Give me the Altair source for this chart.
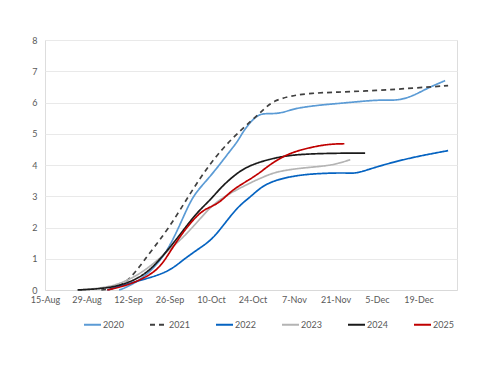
import altair as alt
import pandas as pd

# ---- data ----
d2020 = ["09-09","09-12","09-19","09-26","10-02","10-05","10-10","10-16","10-19","10-21","10-24","10-26","10-28","11-01","11-04","11-08","11-17","11-21","11-30","12-07","12-12","12-17","12-22","12-28"]
v2020 = [0.0,0.1,0.5,1.3,2.65,3.15,3.65,4.4,4.75,5.1,5.45,5.6,5.65,5.64,5.7,5.83,5.93,5.96,6.04,6.09,6.06,6.2,6.46,6.7]

d2021 = ["09-03","09-08","09-12","09-16","09-19","09-26","10-03","10-10","10-17","10-24","10-28","10-31","11-06","11-13","11-21","12-05","12-17","12-29"]
v2021 = [0.0,0.05,0.3,0.75,1.15,2.0,3.1,4.1,4.85,5.45,5.8,6.05,6.22,6.3,6.33,6.38,6.46,6.54]

d2022 = ["09-05","09-12","09-19","09-26","10-01","10-07","10-10","10-13","10-19","10-23","10-27","11-01","11-09","11-18","11-25","11-28","12-05","12-16","12-29"]
v2022 = [0.0,0.2,0.38,0.6,1.0,1.39,1.6,1.92,2.67,2.95,3.31,3.53,3.69,3.74,3.75,3.72,3.95,4.23,4.46]

d2023 = ["08-26","09-05","09-12","09-19","09-26","10-01","10-07","10-12","10-23","10-27","11-01","11-09","11-18","11-22","11-26"]
v2023 = [0.0,0.07,0.3,0.7,1.3,1.71,2.35,2.88,3.42,3.59,3.79,3.9,3.97,4.05,4.17]

d2024 = ["08-26","09-05","09-12","09-19","09-26","09-29","10-05","10-10","10-13","10-18","10-23","11-01","11-09","11-22","12-01"]
v2024 = [0.0,0.05,0.22,0.55,1.35,1.7,2.46,2.9,3.25,3.69,4.0,4.25,4.35,4.38,4.38]

d2025 = ["09-05","09-12","09-19","09-23","09-26","10-01","10-06","10-09","10-13","10-17","10-23","10-27","10-29","11-03","11-09","11-18","11-24"]
v2025 = [0.0,0.15,0.45,0.75,1.2,1.92,2.46,2.63,2.79,3.2,3.53,3.79,3.95,4.27,4.49,4.67,4.68]

series_names = ["2020", "2021", "2022", "2023", "2024", "2025"]
series_colors = ["#5B9BD5", "#404040", "#0563C1", "#B4B4B4", "#1A1A1A", "#C00000"]
series_dash = [[1, 0], [5, 4], [1, 0], [1, 0], [1, 0], [1, 0]]

tick_labels = ["08-15","08-29","09-12","09-26","10-10","10-24","11-07","11-21","12-05","12-19"]

# ---- build table ----
rows = []
for name, ds, vs in zip(series_names,
                        [d2020, d2021, d2022, d2023, d2024, d2025],
                        [v2020, v2021, v2022, v2023, v2024, v2025]):
    for d, v in zip(ds, vs):
        rows.append({"series": name, "date": "2001-" + d, "value": v})
df = pd.DataFrame(rows)

def dt(s, year=2001):
    m, d = s.split("-")
    return alt.DateTime(year=year, month=int(m), date=int(d), utc=True)

tick_vals = [dt(t) for t in tick_labels]
domain = [dt("08-15"), alt.DateTime(year=2002, month=1, date=1, utc=True)]

FONT = "Lato"

legend_cfg = dict(title=None, orient="none", legendX=38, legendY=275,
                  direction="horizontal", columns=6,
                  symbolType="stroke", symbolSize=289,
                  symbolStrokeWidth=2, labelFontSize=9,
                  labelColor="#595959", labelFont=FONT,
                  labelOffset=1, columnPadding=22)

chart = alt.Chart(df).mark_line(interpolate="basis", strokeWidth=1.7).encode(
    x=alt.X("date:T",
            scale=alt.Scale(type="utc", domain=domain, nice=False),
            axis=alt.Axis(values=tick_vals,
                          labelExpr="utcFormat(datum.value, '%-d-%b')",
                          title=None, grid=False, ticks=False, domainColor="#D9D9D9",
                          labelColor="#595959", labelFontSize=9, labelPadding=5,
                          labelFont=FONT, labelFlush=False, labelOverlap=False)),
    y=alt.Y("value:Q",
            scale=alt.Scale(domain=[0, 8], nice=False),
            axis=alt.Axis(values=list(range(0, 9)), title=None, domain=False, ticks=False,
                          gridColor="#E9E9E9", labelColor="#595959", labelFontSize=9,
                          labelPadding=8, labelFont=FONT)),
    color=alt.Color("series:N",
                    scale=alt.Scale(domain=series_names, range=series_colors),
                    legend=alt.Legend(**legend_cfg)),
    strokeDash=alt.StrokeDash("series:N",
                              scale=alt.Scale(domain=series_names, range=series_dash),
                              legend=alt.Legend(**legend_cfg)),
    detail="series:N",
).properties(
    width=412, height=250,
    autosize=alt.AutoSizeParams(type="none"),
    padding={"left": 37, "top": 32, "right": 35, "bottom": 80},
).configure_view(stroke=None).configure(background="white")

chart.save("out.html", embed_options={"renderer": "svg", "actions": False})
